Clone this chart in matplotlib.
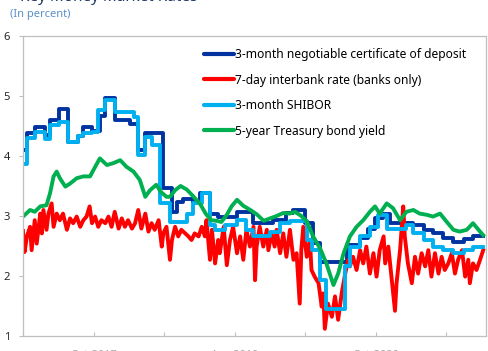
import matplotlib
matplotlib.use("Agg")
import matplotlib.pyplot as plt

plt.rcParams['font.family'] = ['Noto Sans', 'DejaVu Sans']

# months since Jan-2017, value in percent
ncd = [(0, 4.10), (0.55, 4.38), (1.53, 4.49), (2.8, 4.35), (3.5, 4.60), (4.6, 4.78),
       (5.8, 4.24), (7.06, 4.33), (7.7, 4.49), (8.76, 4.42), (9.82, 4.66), (10.46, 4.97),
       (11.7, 4.60), (13.65, 4.54), (14.7, 4.10), (15.56, 4.38), (17.9, 3.46), (18.96, 3.07),
       (19.6, 3.24), (20.45, 3.29), (21.7, 3.24), (22.6, 3.38), (23.85, 3.04), (24.9, 2.99),
       (27.25, 3.07), (29.4, 2.88), (31.9, 2.93), (33.6, 3.05), (34.5, 3.10), (36.0, 2.88),
       (37.0, 2.55), (37.9, 2.23), (41.3, 2.52), (43.0, 2.63), (44.05, 2.79), (44.9, 2.96),
       (45.95, 3.04), (46.8, 2.88), (49.8, 2.85), (51.1, 2.77), (52.3, 2.71), (53.6, 2.63),
       (54.9, 2.57), (56.2, 2.61), (57.4, 2.66), (58.7, 2.66)]

shibor = [(0, 3.87), (0.55, 4.30), (1.53, 4.40), (2.8, 4.28), (3.5, 4.52), (4.6, 4.57),
          (5.8, 4.24), (7.06, 4.33), (7.7, 4.38), (8.76, 4.40), (9.6, 4.77), (10.46, 4.93),
          (11.7, 4.74), (14.1, 4.65), (14.7, 4.02), (15.56, 4.32), (16.4, 4.18), (17.5, 3.21),
          (18.75, 2.90), (20.9, 3.04), (21.7, 3.22), (22.8, 3.38), (23.85, 2.85), (24.5, 2.77),
          (25.8, 2.85), (27.25, 2.93), (28.5, 2.77), (29.4, 2.66), (31.5, 2.74), (32.8, 2.88),
          (34.05, 2.92), (36.2, 2.60), (36.9, 2.43), (37.9, 1.93), (38.7, 1.45), (41.1, 2.16),
          (41.7, 2.49), (43.0, 2.66), (44.25, 2.82), (45.3, 3.02), (46.4, 2.79), (48.9, 2.85),
          (49.8, 2.71), (51.1, 2.60), (52.3, 2.49), (53.6, 2.43), (54.9, 2.38), (56.2, 2.43),
          (57.4, 2.49), (58.7, 2.49)]

interbank = [(0.0, 2.75), (0.2, 2.40), (0.5, 2.66), (0.9, 2.82), (1.1, 2.43), (1.5, 2.93),
             (1.75, 2.54), (2.2, 3.04), (2.4, 2.71), (2.6, 3.10), (3.0, 2.77), (3.25, 3.04),
             (3.65, 3.21), (3.9, 2.82), (4.3, 3.04), (4.7, 2.93), (5.1, 3.04), (5.6, 2.77),
             (6.0, 2.96), (6.4, 2.88), (6.85, 2.99), (7.3, 2.82), (7.7, 2.93), (8.1, 2.99),
             (8.5, 3.16), (8.8, 2.88), (9.2, 2.99), (9.6, 2.82), (10.0, 2.93), (10.5, 2.88),
             (10.9, 2.99), (11.3, 2.82), (11.7, 3.07), (12.2, 2.79), (12.6, 2.96), (13.0, 2.82),
             (13.4, 2.93), (13.9, 2.79), (14.3, 2.88), (14.7, 3.10), (15.1, 2.79), (15.6, 3.04),
             (16.0, 2.74), (16.4, 2.88), (16.8, 2.77), (17.3, 2.93), (17.7, 2.49), (17.9, 2.71),
             (18.3, 2.82), (18.75, 2.27), (19.0, 2.60), (19.4, 2.82), (19.8, 2.66), (20.2, 2.77),
             (20.7, 2.71), (21.1, 2.66), (21.5, 2.60), (21.9, 2.71), (22.4, 2.66), (22.8, 2.82),
             (23.2, 2.66), (23.4, 2.93), (23.85, 2.27), (24.1, 2.77), (24.5, 2.21), (24.9, 2.60),
             (25.1, 2.38), (25.6, 2.82), (26.0, 2.18), (26.4, 2.60), (26.8, 2.82), (27.3, 2.38),
             (27.7, 2.66), (28.1, 2.27), (28.5, 2.77), (28.95, 2.49), (29.4, 2.82), (29.6, 1.93),
             (29.8, 2.49), (30.2, 2.82), (30.65, 2.49), (31.1, 2.77), (31.3, 2.43), (31.7, 2.71),
             (32.1, 2.49), (32.35, 2.77), (32.8, 2.38), (33.2, 2.71), (33.6, 2.32), (34.05, 2.77),
             (34.5, 2.27), (34.9, 2.38), (35.3, 1.54), (35.5, 2.43), (35.75, 2.82), (36.2, 2.32),
             (36.6, 2.60), (36.8, 2.10), (37.2, 1.99), (37.7, 1.88), (38.1, 1.49), (38.3, 1.71),
             (38.5, 1.12), (38.9, 1.54), (39.4, 1.32), (39.8, 1.66), (40.2, 1.27), (40.65, 1.71),
             (41.1, 2.04), (41.5, 2.27), (41.7, 2.16), (42.1, 2.32), (42.55, 2.10), (43.0, 2.43),
             (43.4, 2.21), (43.8, 2.49), (44.25, 2.04), (44.7, 2.38), (45.1, 1.99), (45.5, 2.43),
             (46.0, 2.66), (46.2, 2.21), (46.6, 2.49), (47.0, 1.99), (47.45, 1.42), (47.65, 1.88),
             (48.1, 2.43), (48.5, 3.16), (48.7, 2.66), (49.1, 2.21), (49.6, 1.88), (50.0, 2.32),
             (50.4, 2.04), (50.85, 2.38), (51.3, 2.16), (51.7, 2.43), (52.1, 1.99), (52.55, 2.38),
             (53.0, 2.04), (53.4, 2.32), (53.8, 2.10), (54.25, 2.21), (54.7, 2.38), (55.1, 2.04),
             (55.5, 2.27), (56.0, 2.43), (56.4, 1.99), (56.8, 2.27), (57.0, 1.88), (57.4, 2.21),
             (57.85, 2.10), (58.3, 2.27), (58.7, 2.43)]

treasury = [(0, 2.99), (0.9, 3.10), (1.5, 3.07), (2.2, 3.16), (3.0, 3.18), (3.45, 3.38),
            (3.9, 3.66), (4.3, 3.74), (4.7, 3.63), (5.4, 3.49), (6.0, 3.54), (6.85, 3.63),
            (7.7, 3.66), (8.55, 3.66), (9.0, 3.77), (9.8, 3.96), (10.7, 3.85), (11.5, 3.88),
            (12.4, 3.93), (13.2, 3.82), (14.1, 3.74), (14.9, 3.60), (15.6, 3.32), (16.2, 3.43),
            (17.0, 3.52), (17.6, 3.40), (18.3, 3.32), (18.75, 3.32), (19.4, 3.43), (20.1, 3.50),
            (20.9, 3.44), (21.7, 3.33), (22.6, 3.20), (23.3, 3.04), (24.0, 2.93), (24.7, 2.92),
            (25.3, 2.90), (26.0, 3.02), (26.6, 3.16), (27.3, 3.27), (28.1, 3.17), (29.0, 3.10),
            (29.8, 3.03), (30.7, 2.92), (31.3, 2.95), (32.35, 3.00), (33.2, 3.05), (34.0, 3.04),
            (34.7, 3.07), (35.5, 3.00), (36.2, 2.91), (37.0, 2.66), (37.9, 2.46), (38.7, 2.21),
            (39.6, 1.85), (40.2, 2.04), (40.9, 2.38), (41.7, 2.66), (42.55, 2.82), (43.4, 2.93),
            (44.25, 3.07), (44.9, 3.16), (45.5, 3.04), (46.4, 3.21), (47.2, 3.13), (48.1, 2.93),
            (48.9, 3.07), (49.8, 3.10), (50.6, 3.04), (51.5, 3.02), (52.3, 2.99), (53.2, 3.04),
            (54.0, 2.91), (54.9, 2.77), (55.7, 2.74), (56.6, 2.77), (57.4, 2.88), (58.3, 2.74),
            (58.7, 2.68)]

tick_months = [0, 9, 18, 27, 36, 45, 54]
tick_labels = ["Jan-2017", "Oct-2017", "Jul-2018", "Apr-2019", "Jan-2020", "Oct-2020", "Jul-2021"]

fig = plt.figure(figsize=(4.88, 3.51), dpi=100)
ax = fig.add_axes([23 / 488, 15 / 351, 463 / 488, 300 / 351])

lw = 2.8
ax.plot(*zip(*ncd), drawstyle="steps-post", color="#0033A0", lw=lw,
        label="3-month negotiable certificate of deposit")
ax.plot(*zip(*interbank), color="#FF0000", lw=lw, label="7-day interbank rate (banks only)")
ax.plot(*zip(*shibor), drawstyle="steps-post", color="#00B0F0", lw=lw, label="3-month SHIBOR")
ax.plot(*zip(*treasury), color="#00B050", lw=lw, label="5-year Treasury bond yield")

ax.set_xlim(0, 59.06)
ax.set_ylim(1, 6)
ax.set_yticks([1, 2, 3, 4, 5, 6])
ax.set_xticks(tick_months)
ax.set_xticklabels(tick_labels)

for s in ax.spines.values():
    s.set_color("#BFBFBF")
    s.set_linewidth(0.9)
ax.tick_params(axis="y", length=3, width=0.8, color="#BFBFBF", pad=6.5,
               labelsize=8, labelcolor="#262626")
ax.tick_params(axis="x", direction="in", length=3, width=0.8, color="#BFBFBF", pad=10.2,
               labelsize=8, labelcolor="#A6A6A6")

leg = ax.legend(loc="upper left", bbox_to_anchor=(0.391, 0.96), frameon=False,
                fontsize=8.7, handlelength=2.48, handletextpad=0.05, labelspacing=1.04,
                borderpad=0, borderaxespad=0)
for h in leg.get_lines():
    h.set_linewidth(3)
    h.set_solid_capstyle("round")

fig.text(10 / 488, 1 - 15 / 351, "(In percent)", fontsize=8, color="#5B8FC7", va="center")
fig.text(20 / 488, 1 - 1.2 / 351, "Key Money Market Rates", fontsize=11, fontweight="bold",
         color="#1F3864", va="baseline")

fig.savefig("out.png", dpi=100)
